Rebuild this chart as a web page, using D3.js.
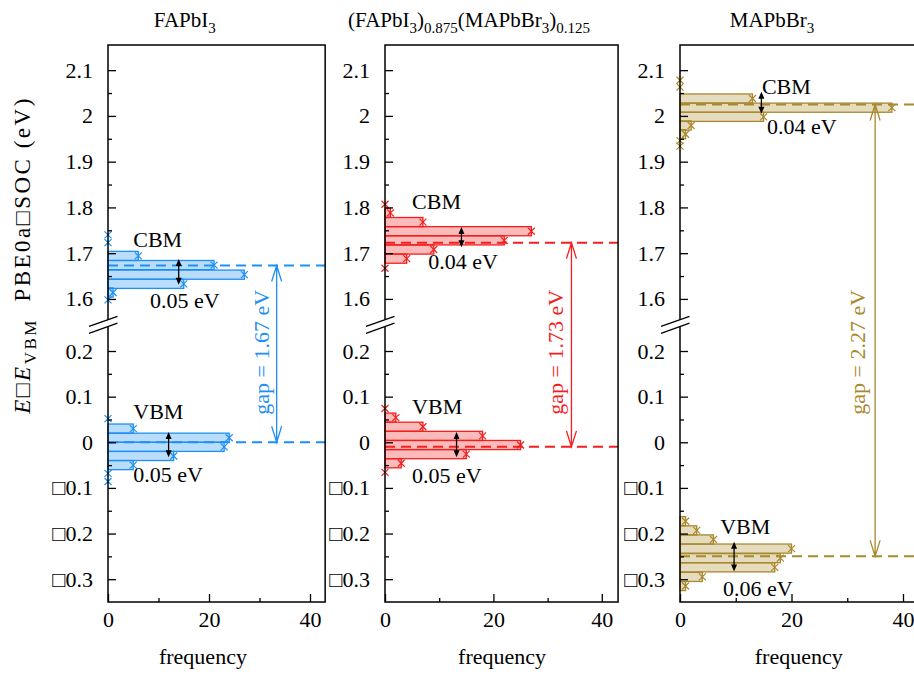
<!DOCTYPE html>
<html>
<head>
<meta charset="utf-8">
<script src="https://cdn.jsdelivr.net/npm/d3@7"></script>
<style>
  body { margin: 0; background: #fff; }
</style>
</head>
<body>
<script>
const w = 914;
const h = 677;
const font = "'Liberation Serif', 'Times New Roman', serif";

// ---- data (energies in eV, counts per 0.02 eV bin) ----
const titleParts = [
  [["FAPbI", 0], ["3", 1]],
  [["(FAPbI", 0], ["3", 1], [")", 0], ["0.875", 1], ["(MAPbBr", 0], ["3", 1], [")", 0], ["0.125", 1]],
  [["MAPbBr", 0], ["3", 1]]
];

const cbmEnergy = [
  [1.740, 1.723, 1.694, 1.674, 1.653, 1.633, 1.614, 1.598],
  [1.807, 1.788, 1.768, 1.748, 1.728, 1.708, 1.688, 1.667],
  [2.078, 2.063, 2.038, 2.018, 1.998, 1.979, 1.960, 1.946, 1.934]
];
const cbmCount = [
  [0, 0, 6, 21, 27, 15, 1, 0],
  [0, 1, 7, 27, 22, 9, 4, 0],
  [0, 0, 13, 38, 15, 2, 1, 0, 0]
];
const vbmEnergy = [
  [0.052, 0.030, 0.010, -0.010, -0.030, -0.050, -0.068, -0.086],
  [0.074, 0.054, 0.034, 0.014, -0.006, -0.026, -0.046, -0.066],
  [-0.173, -0.193, -0.213, -0.233, -0.254, -0.274, -0.295, -0.315]
];
const vbmCount = [
  [0, 5, 24, 23, 13, 5, 0, 0],
  [0, 2, 7, 18, 25, 15, 3, 0],
  [1, 3, 6, 20, 18, 17, 4, 1]
];

const cbmMean = [1.673, 1.723, 2.025];
const vbmMean = [0, -0.010, -0.250];
const gapText = ["gap = 1.67 eV", "gap = 1.73 eV", "gap = 2.27 eV"];
const cbmWidthText = ["0.05 eV", "0.04 eV", "0.04 eV"];
const vbmWidthText = ["0.05 eV", "0.05 eV", "0.06 eV"];

const upperTicks = [1.6, 1.7, 1.8, 1.9, 2.0, 2.1];
const upperMinor = [1.65, 1.75, 1.85, 1.95, 2.05];
const lowerTicks = [0.2, 0.1, 0, -0.1, -0.2, -0.3];
const lowerMinor = [0.15, 0.05, -0.05, -0.15, -0.25];
const xTicks = [0, 20, 40];
const xMinor = [10, 30];

// ---- layout ----
const binW = 0.02;
const xMax = 43;
const panelLeft = [108, 385, 680];
const panelK = [5.05, 5.42, 5.575];
const colors = ["#1e8ff5", "#f41e1e", "#a8892c"];
const titleX = [15.2, 15.5, 16.5];
const freqLabelX = [18.8, 21.6, 21.3];
const cbmLabelPos = [[5, 1.714], [5, 1.797], [14.7, 2.048]];
const cbmWidthPos = [[8.3, 1.580], [8, 1.665], [15.6, 1.960]];
const cbmArrow = [[14, 1.687, 1.631], [14.1, 1.757, 1.713], [14.6, 2.053, 2.005]];
const vbmLabelPos = [[5, 0.052], [5, 0.061], [7.2, -0.200]];
const vbmWidthPos = [[5, -0.087], [5, -0.090], [7.7, -0.336]];
const vbmArrow = [[12, 0.0225, -0.033], [13.2, 0.0225, -0.033], [9.7, -0.218, -0.283]];
const gapX = [33.4, 34.4, 35];
const gapLabelX = [31.9, 32.8, 33.2];
const gapLabelY = 0.197;
const fs = 22;

const frameTop = 45, frameBottom = 602, breakA = 319.7, breakB = 326.5;

const yUp = d3.scaleLinear().domain([1.543, 2.155]).range([325, 45]);
const yLo = d3.scaleLinear().domain([-0.35, 0.257]).range([602, 325]);
const yy = v => v > 1 ? yUp(v) : yLo(v);

const fmt = d => d < 0 ? "\u25A1" + (+(-d).toFixed(2)) : String(+d.toFixed(2));

const svg = d3.select("body").append("svg")
  .attr("width", w)
  .attr("height", h)
  .style("font-family", font);

function smallArrow(g, x, y1, y2) {
  g.append("line").attr("x1", x).attr("x2", x).attr("y1", y1 + 5).attr("y2", y2 - 5)
    .attr("stroke", "#000").attr("stroke-width", 1.3);
  g.append("path").attr("d", `M${x},${y1}L${x - 3},${y1 + 7}L${x + 3},${y1 + 7}Z`).attr("fill", "#000");
  g.append("path").attr("d", `M${x},${y2}L${x - 3},${y2 - 7}L${x + 3},${y2 - 7}Z`).attr("fill", "#000");
}

for (let i = 0; i < 3; i++) {
  const col = colors[i];
  const g = svg.append("g");
  const x = d3.scaleLinear().domain([0, xMax]).range([panelLeft[i], panelLeft[i] + xMax * panelK[i]]);

  const bins = cbmEnergy[i].map((e, j) => ({ e: e, n: cbmCount[i][j] }))
    .concat(vbmEnergy[i].map((e, j) => ({ e: e, n: vbmCount[i][j] })));

  // bars
  g.selectAll("rect.bar")
    .data(bins.filter(d => d.n > 0))
    .join("rect")
    .attr("class", "bar")
    .attr("x", x(0))
    .attr("y", d => yy(d.e + binW / 2))
    .attr("width", d => x(d.n) - x(0))
    .attr("height", d => yy(d.e - binW / 2) - yy(d.e + binW / 2))
    .attr("fill", col)
    .attr("fill-opacity", 0.3)
    .attr("stroke", col)
    .attr("stroke-width", 1.3);

  // cross markers
  g.selectAll("path.cross")
    .data(bins)
    .join("path")
    .attr("class", "cross")
    .attr("d", d => {
      const cx = x(d.n), cy = yy(d.e), s = 3.5;
      return `M${cx - s},${cy - s}L${cx + s},${cy + s}M${cx - s},${cy + s}L${cx + s},${cy - s}`;
    })
    .attr("fill", "none")
    .attr("stroke", col)
    .attr("stroke-width", 1.2);

  // mean lines
  [cbmMean[i], vbmMean[i]].forEach(m => {
    g.append("line")
      .attr("x1", x(0)).attr("x2", x(xMax))
      .attr("y1", yy(m)).attr("y2", yy(m))
      .attr("stroke", col).attr("stroke-width", 2)
      .attr("stroke-dasharray", "10,6");
  });

  // gap arrow
  const gx = x(gapX[i]), g1 = yy(cbmMean[i]), g2 = yy(vbmMean[i]);
  g.append("path")
    .attr("d", `M${gx},${g1}L${gx},${g2}M${gx - 5},${g1 + 16}L${gx},${g1}L${gx + 5},${g1 + 16}M${gx - 5},${g2 - 16}L${gx},${g2}L${gx + 5},${g2 - 16}`)
    .attr("fill", "none").attr("stroke", col).attr("stroke-width", 1.3);
  g.append("text")
    .attr("transform", `translate(${x(gapLabelX[i])},${yy(gapLabelY)}) rotate(-90)`)
    .attr("text-anchor", "middle")
    .attr("font-size", fs)
    .attr("fill", col)
    .text(gapText[i]);

  // width arrows and labels
  smallArrow(g, x(cbmArrow[i][0]), yy(cbmArrow[i][1]), yy(cbmArrow[i][2]));
  smallArrow(g, x(vbmArrow[i][0]), yy(vbmArrow[i][1]), yy(vbmArrow[i][2]));
  [[cbmLabelPos[i], "CBM"], [cbmWidthPos[i], cbmWidthText[i]],
   [vbmLabelPos[i], "VBM"], [vbmWidthPos[i], vbmWidthText[i]]].forEach(([p, t]) => {
    g.append("text")
      .attr("x", x(p[0])).attr("y", yy(p[1]))
      .attr("font-size", fs)
      .text(t);
  });

  // frame with broken left axis
  const x0 = x(0), x1 = x(xMax);
  g.append("path")
    .attr("d", `M${x0},${breakA}L${x0},${frameTop}L${x1},${frameTop}L${x1},${frameBottom}L${x0},${frameBottom}L${x0},${breakB}`)
    .attr("fill", "none").attr("stroke", "#000").attr("stroke-width", 1.5);
  [breakA, breakB].forEach(b => {
    g.append("line")
      .attr("x1", x0 - 19).attr("y1", b + 19 * 10 / 28)
      .attr("x2", x0 + 9.5).attr("y2", b - 9.5 * 10 / 28)
      .attr("stroke", "#000").attr("stroke-width", 1.3);
  });

  // y axes
  const axes = [
    [yUp, upperTicks, upperMinor],
    [yLo, lowerTicks, lowerMinor]
  ];
  axes.forEach(([sc, major, minor]) => {
    const a = g.append("g").attr("transform", `translate(${x0},0)`)
      .call(d3.axisLeft(sc).tickValues(major).tickSize(-8).tickPadding(15).tickFormat(fmt));
    a.select(".domain").remove();
    a.selectAll("text").attr("font-size", fs).attr("font-family", font).attr("fill", "#000");
    a.selectAll("line").attr("stroke-width", 1.3);
    const m = g.append("g").attr("transform", `translate(${x0},0)`)
      .call(d3.axisLeft(sc).tickValues(minor).tickSize(-4).tickFormat(""));
    m.select(".domain").remove();
    m.selectAll("line").attr("stroke-width", 1.3);
  });

  // x axis
  const xa = g.append("g").attr("transform", `translate(0,${frameBottom})`)
    .call(d3.axisBottom(x).tickValues(xTicks).tickSize(-8).tickPadding(9).tickFormat(d => d));
  xa.select(".domain").remove();
  xa.selectAll("text").attr("font-size", fs).attr("font-family", font).attr("fill", "#000");
  xa.selectAll("line").attr("stroke-width", 1.3);
  const xm = g.append("g").attr("transform", `translate(0,${frameBottom})`)
    .call(d3.axisBottom(x).tickValues(xMinor).tickSize(-4).tickFormat(""));
  xm.select(".domain").remove();
  xm.selectAll("line").attr("stroke-width", 1.3);

  g.append("text")
    .attr("x", x(freqLabelX[i]))
    .attr("y", 664)
    .attr("text-anchor", "middle")
    .attr("font-size", fs)
    .text("frequency");

  // title
  const t = g.append("text")
    .attr("x", x(titleX[i]))
    .attr("y", 27)
    .attr("text-anchor", "middle")
    .attr("font-size", 21);
  let shifted = false;
  titleParts[i].forEach(([s, sub]) => {
    const sp = t.append("tspan").text(s);
    if (sub && !shifted) { sp.attr("dy", 6).attr("font-size", 15); shifted = true; }
    else if (sub) { sp.attr("font-size", 15); }
    else if (shifted) { sp.attr("dy", -6); shifted = false; }
  });
}

// y label
const yl = svg.append("text")
  .attr("transform", "translate(30,255) rotate(-90)")
  .attr("text-anchor", "middle")
  .attr("font-size", 23)
  .attr("letter-spacing", 2.5);
yl.append("tspan").attr("font-style", "italic").text("E");
yl.append("tspan").text("\u25A1");
yl.append("tspan").attr("font-style", "italic").text("E");
yl.append("tspan").attr("dy", 6).attr("font-size", 17).text("VBM");
yl.append("tspan").attr("dy", -6).text("\u00A0\u00A0PBE0a\u25A1SOC (eV)");
</script>
</body>
</html>
